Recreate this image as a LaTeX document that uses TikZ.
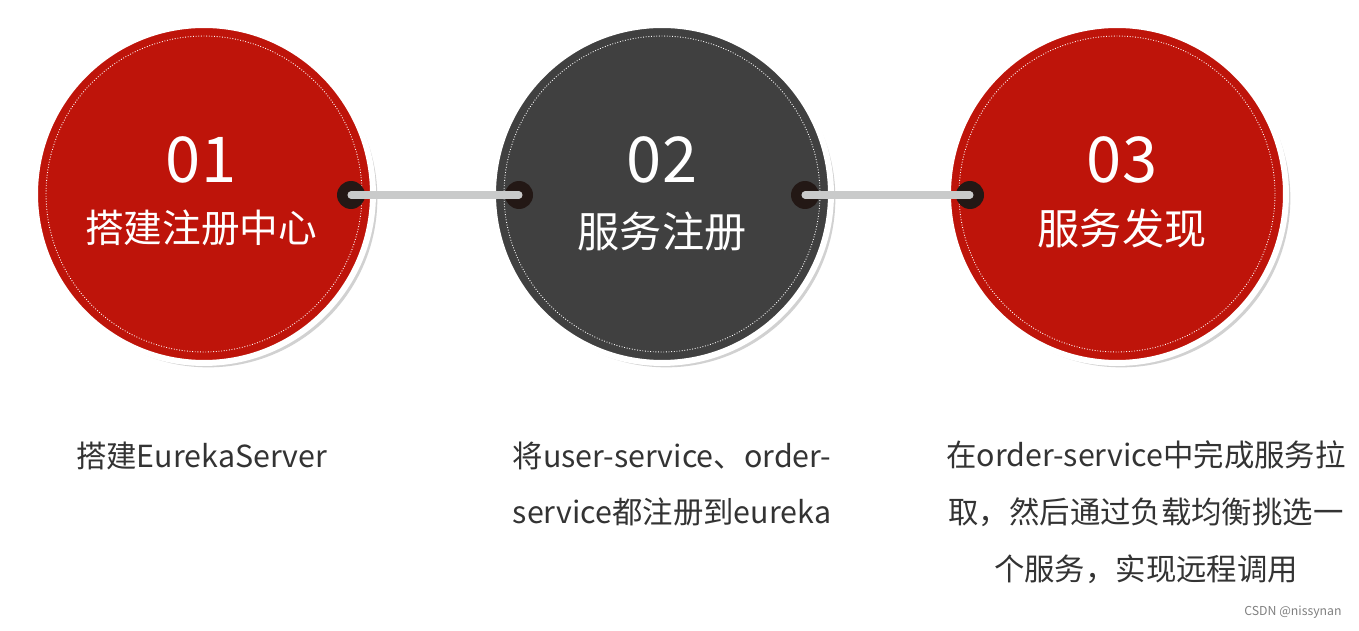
\documentclass[tikz,border=0pt]{standalone}
\usepackage{fontspec}
\setmainfont{Noto Sans CJK SC}
\usetikzlibrary{shadows}
\definecolor{stepred}{RGB}{190,20,10}
\definecolor{stepgray}{RGB}{64,64,64}
\definecolor{linkgray}{RGB}{201,202,202}
\definecolor{dotblack}{RGB}{35,24,21}
\definecolor{textgray}{RGB}{51,51,51}

\begin{document}
\begin{tikzpicture}[x=0.02cm,y=-0.02cm,
    ball/.style={circle,draw=white,line width=3.4pt,inner sep=0pt,minimum size=6.76cm,
      drop shadow={shadow xshift=2.5pt,shadow yshift=-2.5pt,fill=black,opacity=0.18}},
    seam/.style={white,densely dotted,line width=0.5pt},
    dot/.style={circle,fill=dotblack,inner sep=0pt,minimum size=0.56cm},
    link/.style={linkgray,line width=4pt,line cap=round},
    num/.style={white,font=\fontsize{36pt}{40pt}\selectfont},
    head/.style={white,font=\fontsize{22pt}{26pt}\selectfont},
    note/.style={textgray,font=\fontsize{17.3pt}{32.3pt}\selectfont}]
    \useasboundingbox (0,0) rectangle (1359,631);

    \node[ball,fill=stepred] (c1) at (204,194) {};
    \node[ball,fill=stepgray] (c2) at (662,194) {};
    \node[ball,fill=stepred] (c3) at (1117,194) {};
    \foreach \c in {c1,c2,c3}
      \draw[seam] (\c.center) circle (3.16cm);

    \node[num] (n1) at (201,160) {01};
    \node[head] (t1) at (201,228) {搭建注册中心};
    \node[num] (n2) at (662,160) {02};
    \node[head,font=\fontsize{24pt}{28pt}\selectfont] (t2) at (662,232) {服务注册};
    \node[num] (n3) at (1122,160) {03};
    \node[head,font=\fontsize{24pt}{28pt}\selectfont] (t3) at (1122,228) {服务发现};

    \node[dot] (d1) at (351,195) {};
    \node[dot] (d2) at (519,195) {};
    \node[dot] (d3) at (805,195) {};
    \node[dot] (d4) at (970,195) {};
    \draw[link] (d1.center) -- (d2.center);
    \draw[link] (d3.center) -- (d4.center);

    \node[note,anchor=west] (s1) at (70,456) {搭建EurekaServer};
    \node[note,align=center] (s2) at (672,484) {将user-service、order-\\service都注册到eureka};
    \node[note,align=center] (s3) at (1146,512) {在order-service中完成服务拉\\取，然后通过负载均衡挑选一\\个服务，实现远程调用};

    \node[gray,font=\fontsize{7pt}{8pt}\selectfont] (mark) at (1293,612) {CSDN @nissynan};
\end{tikzpicture}
\end{document}
